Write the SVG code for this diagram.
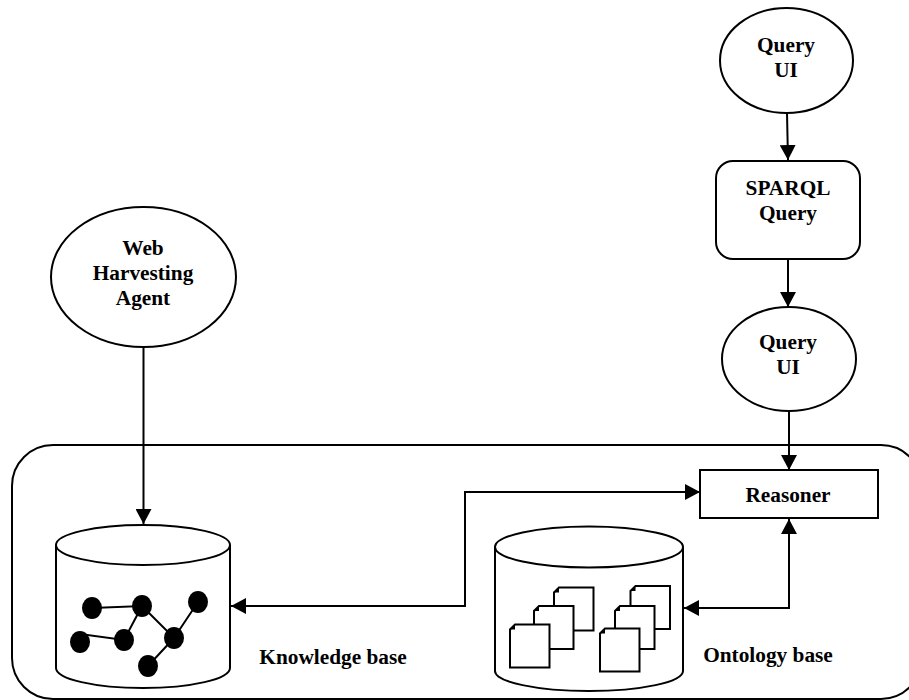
<svg xmlns="http://www.w3.org/2000/svg" width="909" height="700" viewBox="0 0 909 700">
<style>
.s{fill:#fff;stroke:#000;stroke-width:2}
.c{fill:none;stroke:#000;stroke-width:2}
.d{fill:#000;stroke:none}
.e{fill:none;stroke:#000;stroke-width:2}
text{font-family:"Liberation Serif","Times New Roman",serif;font-weight:700;font-size:21.300px;fill:#000;text-anchor:middle}
</style>
<defs>
<marker id="a" markerUnits="userSpaceOnUse" markerWidth="16" markerHeight="16" refX="15" refY="8" orient="auto"><path d="M0 0L15 8L0 16Z" fill="#000"/></marker>
<marker id="b" markerUnits="userSpaceOnUse" markerWidth="16" markerHeight="16" refX="15" refY="8" orient="auto-start-reverse"><path d="M0 0L15 8L0 16Z" fill="#000"/></marker>
<g id="doc"><path class="s" d="M5 0H39.500V43H0V5Z"/><path class="d" d="M5 0L0 5L5 5Z"/></g>
</defs>
<g id="container"><rect class="c" x="12" y="445" width="910" height="254" rx="41" ry="41"/></g>
<g id="query-ui-top"><ellipse class="s" cx="786.500" cy="60.500" rx="66.500" ry="52.500"/><text x="786" y="52">Query</text><text x="786" y="77">UI</text></g>
<g id="sparql-query"><rect class="s" x="716" y="161" width="144" height="98" rx="17" ry="17"/><text x="788" y="195">SPARQL</text><text x="788" y="220">Query</text></g>
<g id="query-ui-bottom"><ellipse class="s" cx="789" cy="359" rx="67" ry="52"/><text x="788" y="349">Query</text><text x="788" y="374">UI</text></g>
<g id="web-harvesting-agent"><ellipse class="s" cx="143.500" cy="277" rx="92.500" ry="70"/><text x="143" y="255">Web</text><text x="143" y="280">Harvesting</text><text x="143" y="305">Agent</text></g>
<g id="reasoner"><rect class="s" x="700" y="470" width="178" height="48"/><text x="788" y="502">Reasoner</text></g>
<g id="knowledge-base">
<path class="s" d="M56 545V668C56 679 95 688 143 688S230 679 230 668V545"/>
<ellipse class="s" cx="143" cy="545" rx="87" ry="20"/>
<path class="e" d="M92 608L142 606L124 640L80 634M142 606L174 638L198 602M174 638L148 666"/>
<ellipse class="d" cx="92" cy="608" rx="10" ry="11"/><ellipse class="d" cx="142" cy="606" rx="10" ry="11"/><ellipse class="d" cx="198" cy="602" rx="10" ry="11"/><ellipse class="d" cx="80" cy="642" rx="10" ry="11"/><ellipse class="d" cx="124" cy="640" rx="10" ry="11"/><ellipse class="d" cx="174" cy="638" rx="10" ry="11"/><ellipse class="d" cx="148" cy="666" rx="10" ry="11"/>
<text x="333" y="664">Knowledge base</text>
</g>
<g id="ontology-base">
<path class="s" d="M495 547V671C495 682 537 691 589 691S683 682 683 671V547"/>
<ellipse class="s" cx="589" cy="547" rx="94" ry="20.500"/>
<use href="#doc" x="554" y="587.500"/><use href="#doc" x="534" y="606"/><use href="#doc" x="510" y="624.500"/>
<use href="#doc" x="630.500" y="586"/><use href="#doc" x="615" y="606"/><use href="#doc" x="600" y="628.500"/>
<text x="768" y="662">Ontology base</text>
</g>
<g id="connectors">
<path class="c" marker-end="url(#a)" d="M787 113L788 160"/>
<path class="c" marker-end="url(#a)" d="M788 259V307"/>
<path class="c" marker-end="url(#a)" d="M789 411V470"/>
<path class="c" marker-end="url(#a)" d="M143.500 347V524"/>
<path class="c" marker-start="url(#b)" marker-end="url(#a)" d="M231 606H465V492H700"/>
<path class="c" marker-start="url(#b)" marker-end="url(#a)" d="M684 608H789V519"/>
</g>
</svg>
